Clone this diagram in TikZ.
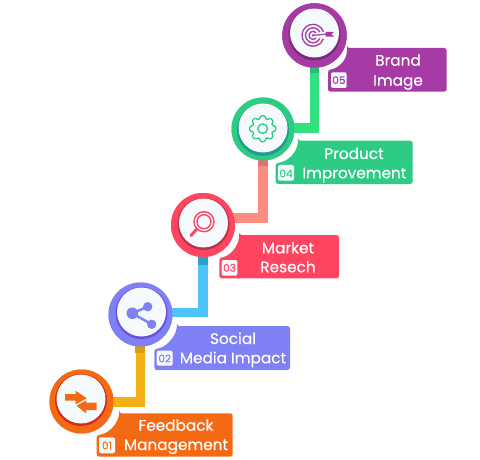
\documentclass[tikz,border=0pt]{standalone}
\usepackage{fontspec}
\setmainfont{Poppins}
\definecolor{pur}{HTML}{A63BA6}\definecolor{purd}{HTML}{7B2A7E}
\definecolor{grn}{HTML}{2DCB84}\definecolor{grnd}{HTML}{1F9E8F}
\definecolor{red1}{HTML}{FF4560}\definecolor{redd}{HTML}{B8324C}
\definecolor{blu}{HTML}{7F7FF6}\definecolor{blud}{HTML}{6A4FD8}
\definecolor{org}{HTML}{F46A14}\definecolor{orgd}{HTML}{CF2A1E}
\definecolor{lgrn}{HTML}{33E07F}\definecolor{lgrnd}{HTML}{2DBA78}
\definecolor{sal}{HTML}{FA8C80}\definecolor{sald}{HTML}{D9756C}
\definecolor{sky}{HTML}{4FC5F7}\definecolor{skyd}{HTML}{2F9FC9}
\definecolor{yel}{HTML}{F5B015}\definecolor{yeld}{HTML}{DB9A14}
\definecolor{face}{HTML}{F5FAFC}
\tikzset{
  link/.style={line width=9.5pt},
  ringbase/.style={circle,inner sep=0pt,fill=#1},
  ttl/.style={text=white,font=\fontsize{15.3}{15.3}\selectfont\addfontfeature{FakeBold=0.35},inner sep=0pt,anchor=base},
  badge/.style={rounded corners=2pt,fill=face},
  bnum/.style={text=#1,font=\fontsize{10.5}{10.5}\selectfont\addfontfeature{FakeBold=0.35},inner sep=0pt,anchor=base},
  lab/.style={rounded corners=2.5pt,fill=#1},
  icon/.style={line width=1.3pt},
}
\begin{document}
\begin{tikzpicture}[x=1pt,y=-1pt]
\useasboundingbox (0,0) rectangle (480,460);
% labels
\fill[lab=pur] (347,48) -- (446.7,48) -- (446.7,91.7) -- (328,91.7) -- (328,70) .. controls (339,68) and (347,60) .. cycle;
\fill[lab=grn] (298,140.7) -- (412.7,140.7) -- (412.7,184) -- (275.7,184) -- (275.7,163) .. controls (288,162) and (297,152) .. cycle;
\fill[lab=red1] (239.3,235) -- (339,235) -- (339,278.3) -- (219.3,278.3) -- (219.3,258) .. controls (230,256) and (238,247) .. cycle;
\fill[lab=blu] (177,326) -- (290,326) -- (290,370) -- (154.3,370) -- (154.3,349) .. controls (165,348) and (175,338) .. cycle;
\fill[lab=org] (119.3,413.3) -- (232.7,413.3) -- (232.7,456.7) -- (96.7,456.7) -- (96.7,435) .. controls (108,434) and (117,425) .. cycle;
% badges
\fill[badge] (331,72.3) rectangle (346.7,88);
\fill[badge] (278,165) rectangle (294,180.7);
\fill[badge] (221.7,260) rectangle (237.3,275.7);
\fill[badge] (156.7,350.7) rectangle (172.7,365.7);
\fill[badge] (99,437.3) rectangle (115,453.3);
\node[bnum=pur] (n5) at (338.9,84) {05};
\node[bnum=grn] (n4) at (286,177.3) {04};
\node[bnum=red1] (n3) at (229.5,271.7) {03};
\node[bnum=blu] (n2) at (164.7,362.3) {02};
\node[bnum=org] (n1) at (107,449.3) {01};
% texts
\node[ttl] (t5a) at (398,65.7) {Brand};
\node[ttl] (t5b) at (398,85.7) {Image};
\node[ttl] (t4a) at (354,159) {Product};
\node[ttl] (t4b) at (354.4,178.3) {Improvement};
\node[ttl] (t3a) at (288,253.3) {Market};
\node[ttl] (t3b) at (288,272.3) {Resech};
\node[ttl] (t2a) at (233,344) {Social};
\node[ttl] (t2b) at (233,363.3) {Media Impact};
\node[ttl] (t1a) at (176,430.7) {Feedback};
\node[ttl] (t1b) at (176,450) {Management};
% circle anchors
\node[ringbase=pur,minimum size=64.5pt] (c5) at (314.5,35.5) {};
\node[ringbase=grn,minimum size=63pt] (c4) at (263,129) {};
\node[ringbase=red1,minimum size=64pt] (c3) at (203,225) {};
\node[ringbase=blu,minimum size=64pt] (c2) at (140.5,314.5) {};
\node[ringbase=org,minimum size=64pt] (c1) at (81.5,401.5) {};
% connectors
\draw[link,lgrn] (c5.center) |- ([yshift=1pt]c4.center);
\draw[link,sal] (c4.center) |- ([yshift=7pt]c3.center);
\draw[link,sky] (c3.center) |- ([yshift=2pt]c2.center);
\draw[link,yel] (c2.center) |- ([yshift=-.5pt]c1.center);
% shadows
\fill[lgrnd] (309.75,60) rectangle (319.25,73);
\fill[sald] (258.25,150) rectangle (267.75,166);
\fill[skyd] (198.25,245) rectangle (207.75,265);
\fill[yeld] (135.25,340) rectangle (144.75,353);
% rings
\fill[pur] (c5) circle (32.25);
\fill[grn] (c4) circle (31.5);
\fill[red1] (c3) circle (32);
\fill[blu] (c2) circle (32);
\fill[org] (c1) circle (32);
\fill[purd] (314.5,34.5) circle (26);
\fill[grnd] (263,130) circle (26);
\fill[redd] (203.5,224) circle (26);
\fill[blud] (141.5,313) circle (26);
\fill[orgd] (81,400) circle (26);
\fill[face] (314.5,33) circle (24.5);
\fill[face] (263,128) circle (24.5);
\fill[face] (203.5,223) circle (24.5);
\fill[face] (141.5,312) circle (24.5);
\fill[face] (81,399) circle (24.5);
% icon 5: target
\draw[pur,icon] (313,35.3) ++(-18:11) arc (-18:-342:11);
\draw[pur,icon] (313,35.3) ++(-25:7.5) arc (-25:-335:7.5);
\draw[pur,icon] (313,35.3) ++(-40:4) arc (-40:-320:4);
\fill[pur] (313,35.3) circle (1.3);
\draw[pur,line width=1.2pt] (313,35.3) -- (328,34);
\fill[pur] (325.5,32) -- (334,31.8) -- (331.5,34.3) -- (334,36.8) -- (325.5,36.5) -- cycle;
% icon 4: gear
\draw[grn,icon,line join=round,rounded corners=1.2pt]
  (262.7,128.7) ++(-15:10.2)
  \foreach \a in {0,45,...,315} {
    -- ([shift={(\a-11:13.2)}]262.7,128.7) -- ([shift={(\a+11:13.2)}]262.7,128.7)
    -- ([shift={(\a+15:10.2)}]262.7,128.7) -- ([shift={(\a+30:10.2)}]262.7,128.7)
  } -- cycle;
\draw[grn,icon] (262.7,128.7) circle (4.8);
% icon 3: magnifier
\draw[red1,line width=1.4pt] (204,221.7) circle (10);
\draw[red1,line width=1.4pt] (204,221.7) circle (7);
\draw[red1,line width=3pt,line cap=round] (196.5,229.5) -- (191,235.5);
% icon 2: share
\draw[blu,line width=2.4pt] (147.7,306.7) -- (132.3,313.3) -- (151.7,324.3);
\fill[blu] (132.3,313.3) circle (5.8) (147.7,306.7) circle (4.7) (151.7,324.3) circle (4.7);
% icon 1: arrows
\fill[org] (65,394) -- (75.7,394) -- (75.7,390.7) -- (86.7,398.3) -- (75.7,404.4) -- (75.7,400.7) -- (65,400.7) -- cycle;
\fill[org] (96.7,402.7) -- (86,402.7) -- (86,400.4) -- (76.5,405.8) -- (86,413.3) -- (86,410) -- (96.7,410) -- cycle;
\end{tikzpicture}
\end{document}
